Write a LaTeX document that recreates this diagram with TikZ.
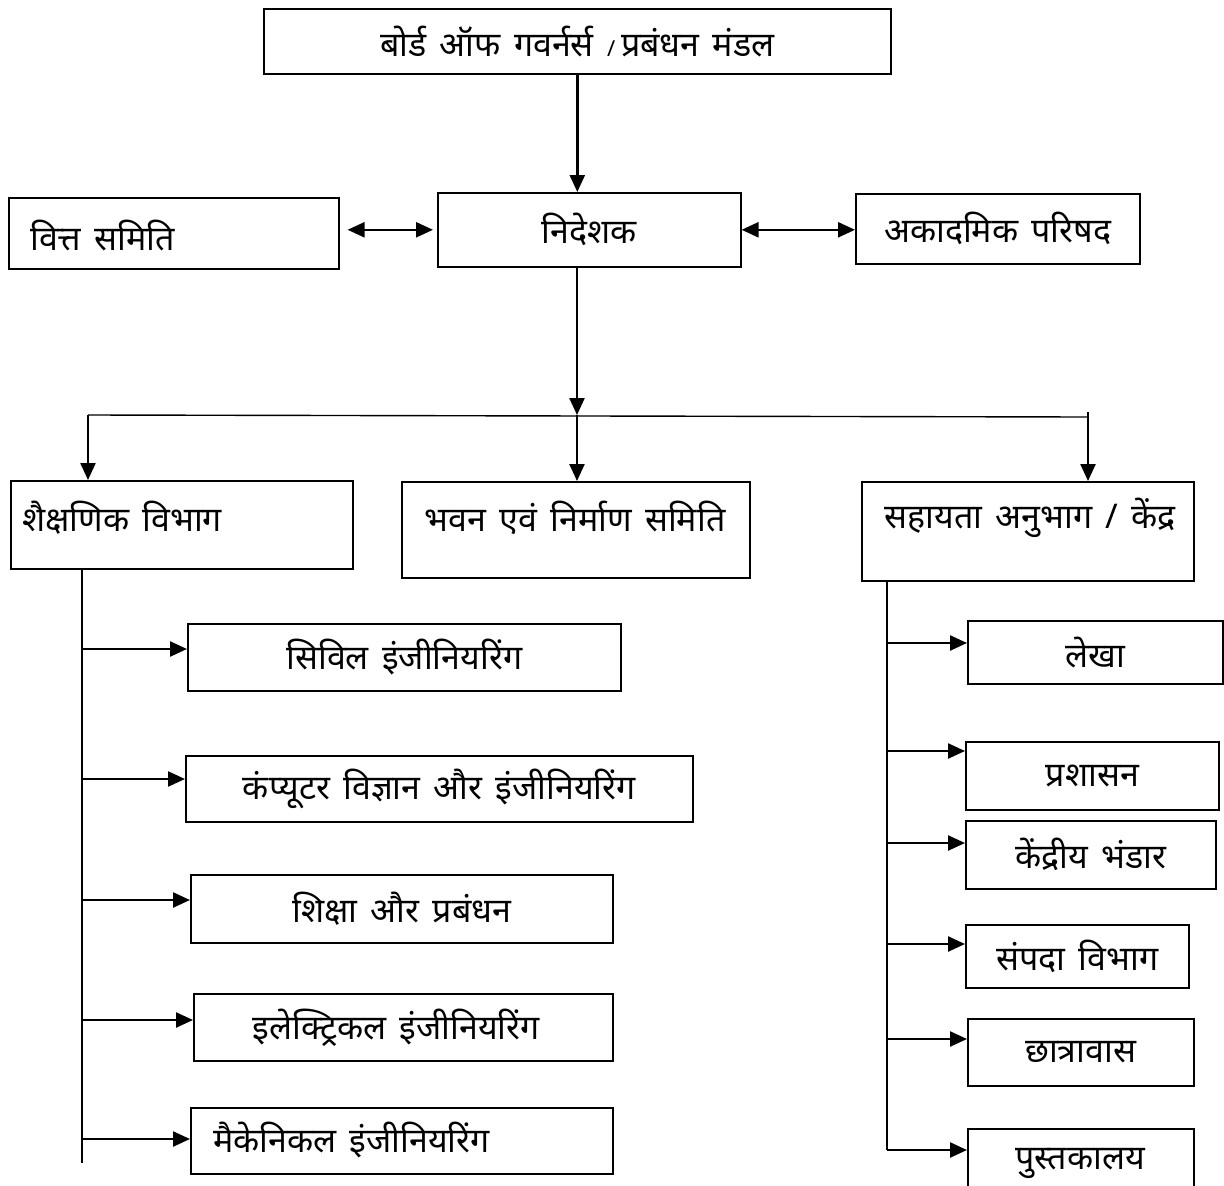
\documentclass[tikz,border=0pt]{standalone}
\usepackage{fontspec}
\setmainfont[Script=Devanagari, WordSpace=1.5]{Noto Sans}
\usetikzlibrary{arrows.meta}
\begin{document}
\begin{tikzpicture}[x=1pt,y=-1pt,
  font=\fontsize{34}{40}\selectfont,
  box/.style={draw, line width=1.6pt, inner sep=0pt, anchor=north west},
  lbl/.style={inner sep=0pt},
  arr/.style={line width=2.4pt, -{Triangle[length=17pt,width=15pt]}},
  dbl/.style={line width=2.4pt, {Triangle[length=17pt,width=15pt]}-{Triangle[length=17pt,width=15pt]}},
  trunk/.style={line width=1.4pt}]
\useasboundingbox (0,0) rectangle (1224,1186);

% top level
\node[box, minimum width=627pt, minimum height=65pt] (bog) at (263,8)
  {बोर्ड ऑफ गवर्नर्स {\fontsize{22}{26}\selectfont/}\,प्रबंधन मंडल};
\node[box, minimum width=330pt, minimum height=71pt] (fin) at (8,197) {};
\node[lbl, anchor=west] at (30,236) {वित्त समिति};
\node[box, minimum width=303pt, minimum height=74pt] (dir) at (437,192) {निदेशक};
\node[box, minimum width=284pt, minimum height=70pt] (acad) at (855,193) {अकादमिक परिषद};

% second level
\node[box, minimum width=342pt, minimum height=88pt] (shk) at (10,480) {};
\node[lbl, anchor=west] at (22,518) {शैक्षणिक विभाग};
\node[box, minimum width=348pt, minimum height=96pt] (bhv) at (401,481) {};
\node[lbl] at (575,518) {भवन एवं निर्माण समिति};
\node[box, minimum width=332pt, minimum height=99pt] (sah) at (861,481) {};
\node[lbl] at (1030,518) {सहायता अनुभाग / केंद्र};

% academic departments
\node[box, minimum width=433pt, minimum height=67pt] (civ) at (187,623) {सिविल इंजीनियरिंग};
\node[box, minimum width=507pt, minimum height=66pt] (cse) at (185,755) {कंप्यूटर विज्ञान और इंजीनियरिंग};
\node[box, minimum width=422pt, minimum height=68pt] (edu) at (190,874) {शिक्षा और प्रबंधन};
\node[box, minimum width=419pt, minimum height=67pt] (ele) at (193,993) {\hspace*{-14pt}इलेक्ट्रिकल इंजीनियरिंग};
\node[box, minimum width=422pt, minimum height=66pt] (mec) at (190,1107) {};
\node[lbl, anchor=west] at (213,1140) {मैकेनिकल इंजीनियरिंग};

% support sections
\node[box, minimum width=255pt, minimum height=63pt] (lek) at (967,620) {लेखा};
\node[box, minimum width=253pt, minimum height=68pt] (pra) at (965,741) {प्रशासन};
\node[box, minimum width=250pt, minimum height=68pt] (ken) at (965,820) {केंद्रीय भंडार};
\node[box, minimum width=223pt, minimum height=63pt] (sam) at (965,924) {संपदा विभाग};
\node[box, minimum width=226pt, minimum height=67pt] (chh) at (967,1018) {छात्रावास};
\node[box, minimum width=226pt, minimum height=80pt] (pus) at (967,1128) {};
\node[lbl] at (1080,1163) {पुस्तकालय};

% connectors top
\draw[arr] (bog.south) -- (dir.north -| bog.south);
\draw[dbl, shorten <=8pt, shorten >=4pt] (fin.east |- dir.west) -- (dir.west);
\draw[dbl] (dir.east) -- (dir.east -| acad.west);

% trunk
\coordinate (tL) at (88,415);
\coordinate (tM) at (577,415);
\coordinate (tR) at (1088,417);
\draw[arr] (dir.south -| tM) -- (tM);
\draw[trunk] (tL) -- (tR);
\draw[arr] (tL) -- (tL |- shk.north);
\draw[arr] (tM) -- (tM |- bhv.north);
\draw[arr] ([yshift=5pt]tR) -- (tR |- sah.north);

% left branch
\coordinate (lb) at (82,1163);
\draw[trunk] (shk.south -| lb) -- (lb);
\foreach \n/\y in {civ/649, cse/779, edu/900, ele/1020, mec/1139}{
  \coordinate (p\n) at (82,\y);
  \draw[arr] (p\n) -- (p\n -| \n.west);
}

% right branch
\coordinate (rb) at (887,1150);
\draw[trunk] (sah.south -| rb) -- (rb);
\foreach \n/\y in {lek/643, pra/751, ken/843, sam/944, chh/1039, pus/1150}{
  \coordinate (q\n) at (887,\y);
  \draw[arr] (q\n) -- (q\n -| \n.west);
}
\end{tikzpicture}
\end{document}
